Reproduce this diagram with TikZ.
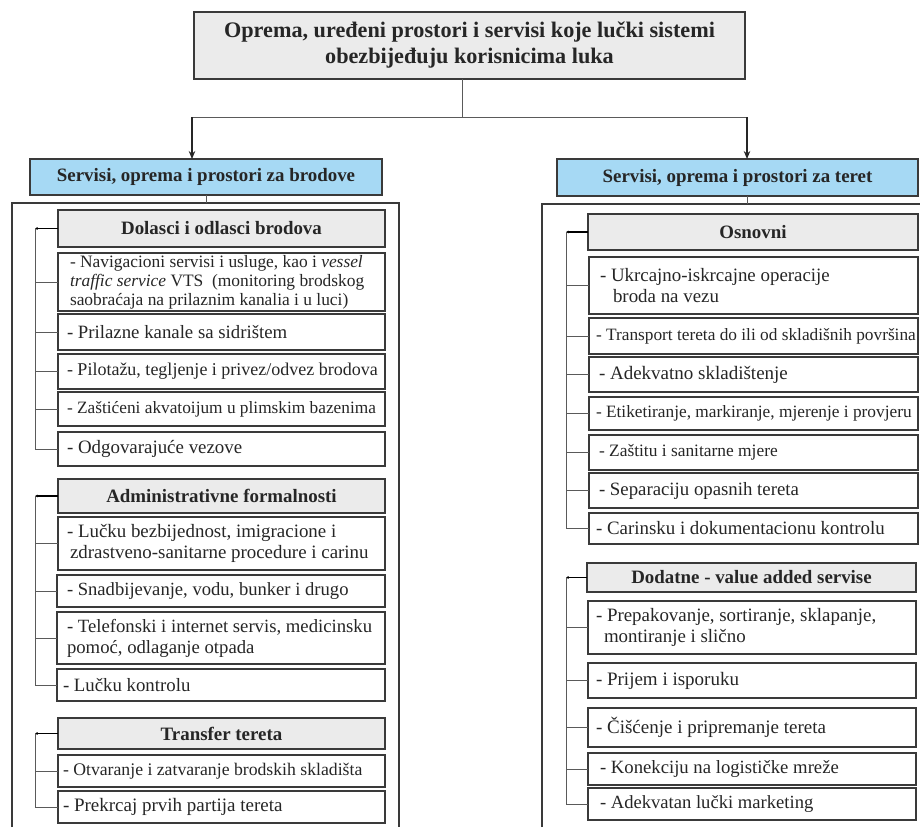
\documentclass[tikz,border=0pt]{standalone}
\usepackage{fontspec}
\setmainfont{Liberation Serif}
\usetikzlibrary{arrows.meta}
\definecolor{boxline}{HTML}{3A3A3A}
\definecolor{linkline}{HTML}{5A5A5A}
\definecolor{headgray}{HTML}{EBEBEB}
\definecolor{headblue}{HTML}{A6D9F4}
% heading box from corner (x1,y1) to corner (x2,y2)
\newcommand\hb[7][]{%
  \pgfmathsetmacro\bw{#5-#3}%
  \pgfmathsetmacro\bh{#6-#4}%
  \node[#1, minimum width=\bw pt, minimum height=\bh pt]
    (#2) at ({(#3+#5)/2},{(#4+#6)/2}) {#7};%
}
% item box: [extra text style] name, x1, y1, x2, y2, left padding, font size, text
\newcommand\ib[9][]{%
  \pgfmathsetmacro\bw{#5-#3}%
  \pgfmathsetmacro\bh{#6-#4}%
  \pgfmathsetmacro\bs{#8*1.12}%
  \node[itembox, minimum width=\bw pt, minimum height=\bh pt]
    (#2) at ({(#3+#5)/2},{(#4+#6)/2}) {};%
  \node[itemtext, font=\fontsize{#8}{\bs}\selectfont, anchor=west, #1]
    (#2-t) at ([xshift=#7pt]#2.west) {#9};%
}
\begin{document}
\begin{tikzpicture}[x=1pt,y=-1pt,
  every node/.style={inner xsep=0pt, inner ysep=0pt, outer sep=0pt},
  titlebox/.style={draw=boxline, line width=1.1pt, fill=headgray, align=center,
    text=black!85, font=\fontsize{22.2}{26}\selectfont\bfseries},
  bluebox/.style={draw=boxline, line width=1.1pt, fill=headblue, align=center,
    text=black!85, font=\fontsize{18.9}{21}\selectfont\bfseries},
  grayhead/.style={draw=boxline, line width=1.1pt, fill=headgray, align=center,
    text=black!85, font=\fontsize{18.9}{21}\selectfont\bfseries},
  itembox/.style={draw=boxline, line width=1.1pt, fill=white},
  itemtext/.style={align=left, text=black!85},
  frame/.style={draw=boxline, line width=1.1pt},
  conn/.style={draw=linkline, line width=0.9pt},
  feed/.style={draw=black!85, line width=1.3pt, -{Stealth[length=8pt,width=6.5pt]}},
  stub/.style={draw=black, line width=1.4pt, -{Latex[length=2.5pt,width=3pt]}}
]
\useasboundingbox (0,0) rectangle (920,827);

% title and the two branches
\hb[titlebox]{top}{194}{12}{745}{79}{Oprema, uređeni prostori i servisi koje lučki sistemi\\obezbijeđuju korisnicima luka}
\hb[bluebox]{ships}{30}{159}{382}{195}{Servisi, oprema i prostori za brodove}
\hb[bluebox]{cargo}{557}{159}{918}{196}{Servisi, oprema i prostori za teret}

\coordinate (split) at (462,117);
\coordinate (leftend) at (192,117);
\coordinate (rightend) at (747,117);
\draw[conn] ([xshift=-7.5pt]top.south) -- (split);
\draw[conn] (leftend) -- (rightend);
\draw[feed] (leftend) -- (leftend |- ships.north);
\draw[feed] (rightend) -- (rightend |- cargo.north);

% outer frames
\draw[frame] (12,827) -- (12,203) -- (399,203) -- (399,827);
\draw[frame] (542,827) -- (542,204) -- (925,204);
\draw[conn] (ships.south) -- (ships.south |- 0,203);
\draw[conn] (rightend |- cargo.south) -- (rightend |- 0,204);

% ---- left column: ships ----
\coordinate (bl) at (35,0);
\hb[grayhead]{hD}{58}{210}{385}{247}{Dolasci i odlasci brodova}
\ib[font=\fontsize{17.4}{19}\selectfont]{n1}{58}{253}{385}{311}{12}{17.4}{- Navigacioni servisi i usluge, kao i \textit{vessel}\\\textit{traffic service} VTS~ (monitoring brodskog\\saobraćaja na prilaznim kanalia i u luci)}
\ib{n2}{58}{314}{385}{350}{9}{18.8}{- Prilazne kanale sa sidrištem}
\ib{n3}{58}{354}{385}{389}{9}{18.0}{- Pilotažu, tegljenje i privez/odvez brodova}
\ib{n4}{58}{392}{385}{426}{9}{17.3}{- Zaštićeni akvatoijum u plimskim bazenima}
\ib{n5}{58}{432}{385}{466}{9}{18.9}{- Odgovarajuće vezove}

\hb[grayhead]{hA}{58}{479}{385}{513}{Administrativne formalnosti}
\ib{a1}{58}{517}{385}{570}{9}{18.9}{- Lučku bezbijednost, imigracione i\\\hspace*{3pt}zdrastveno-sanitarne procedure i carinu}
\ib{a2}{57}{575}{385}{607}{10}{18.6}{- Snadbijevanje, vodu, bunker i drugo}
\ib{a3}{57}{612}{385}{664}{10}{18.7}{- Telefonski i internet servis, medicinsku\\pomoć, odlaganje otpada}
\ib{a4}{57}{669}{385}{701}{6}{18.8}{- Lučku kontrolu}

\hb[grayhead]{hT}{58}{718}{385}{749}{Transfer tereta}
\ib{t1}{58}{755}{385}{787}{5}{17.7}{- Otvaranje i zatvaranje brodskih skladišta}
\ib{t2}{58}{791}{385}{823}{5}{19.0}{- Prekrcaj prvih partija tereta}

% ---- right column: cargo ----
\coordinate (br) at (566,0);
\hb[grayhead]{hO}{588}{214}{918}{250}{Osnovni}
\ib{o1}{589}{257}{918}{314}{11}{18.9}{- Ukrcajno-iskrcajne operacije\\\hspace*{13pt}broda na vezu}
\ib{o2}{589}{318}{918}{354}{7}{17.3}{- Transport tereta do ili od skladišnih površina}
\ib{o3}{589}{357}{918}{392}{10}{19.0}{- Adekvatno skladištenje}
\ib{o4}{589}{397}{918}{430}{7}{17.3}{- Etiketiranje, markiranje, mjerenje i provjeru}
\ib{o5}{589}{435}{918}{470}{10}{17.4}{- Zaštitu i sanitarne mjere}
\ib{o6}{589}{473}{918}{508}{10}{18.8}{- Separaciju opasnih tereta}
\ib{o7}{589}{513}{918}{544}{7}{18.9}{- Carinsku i dokumentacionu kontrolu}

\hb[grayhead]{hDd}{587}{563}{916}{592}{Dodatne - value added servise}
\ib{d1}{588}{601}{916}{654}{8}{18.9}{- Prepakovanje, sortiranje, sklapanje,\\\hspace*{8pt}montiranje i slično}
\ib{d2}{588}{663}{916}{698}{8}{19.0}{- Prijem i isporuku}
\ib{d3}{588}{708}{916}{747}{8}{19.0}{- Čišćenje i pripremanje tereta}
\ib{d4}{588}{753}{916}{785}{12}{18.7}{- Konekciju na logističke mreže}
\ib{d5}{588}{788}{916}{820}{12}{18.6}{- Adekvatan lučki marketing}

% ---- bracket connectors ----
\foreach \h/\last/\items/\b in {hD/n5/{n1,n2,n3,n4,n5}/bl,
                                 hA/a4/{a1,a2,a3,a4}/bl,
                                 hT/t2/{t1,t2}/bl,
                                 hO/o7/{o1,o2,o3,o4,o5,o6,o7}/br,
                                 hDd/d5/{d1,d2,d3,d4,d5}/br}{
  \draw[stub] (\h.west) -- (\h.west -| \b);
  \draw[conn] (\h.west -| \b) -- (\last.west -| \b);
  \foreach \i in \items { \draw[conn] (\i.west -| \b) -- (\i.west); }
}
\end{tikzpicture}
\end{document}
